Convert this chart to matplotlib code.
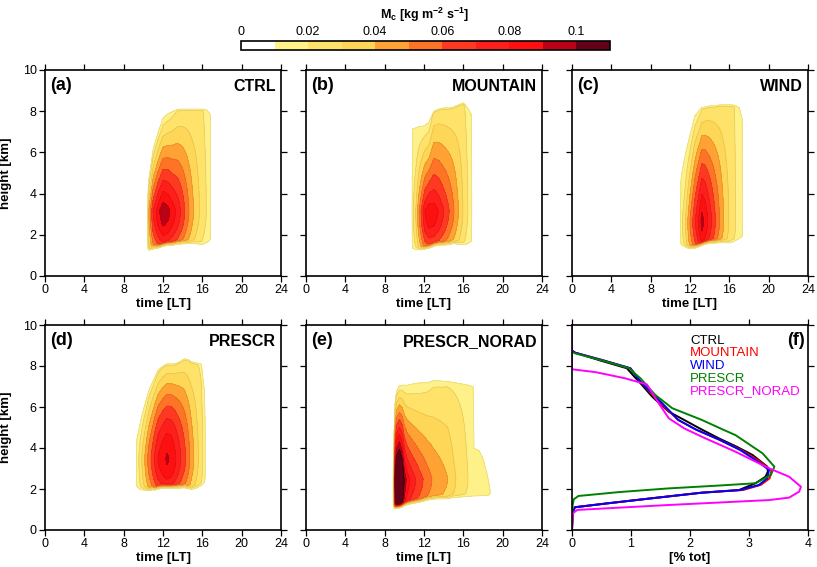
import numpy as np
import matplotlib
matplotlib.use('Agg')
import matplotlib.pyplot as plt
from matplotlib.colors import to_rgb

plt.rcParams['font.family'] = ['Liberation Sans', 'DejaVu Sans']
plt.rcParams['mathtext.fontset'] = 'custom'
plt.rcParams['mathtext.rm'] = 'Liberation Sans:bold'
plt.rcParams['mathtext.bf'] = 'Liberation Sans:bold'
plt.rcParams['mathtext.default'] = 'bf'

# colour levels of the mass flux
levels = [0, 0.01, 0.02, 0.03, 0.04, 0.05, 0.06, 0.07, 0.08, 0.09, 0.1, 0.11]
fill_colors = ['#ffffff', '#fef18a', '#fee26a', '#fed758', '#fea233', '#fd7427',
               '#fd3a21', '#fc1f1c', '#fd1010', '#bc0016', '#650019']
cbar_ticks = [0, 0.02, 0.04, 0.06, 0.08, 0.1]
cbar_labels = ['0', '0.02', '0.04', '0.06', '0.08', '0.1']

# ---- panel data: column maximum (AMP), value at cloud top (TOPV),
# cloud top / base height and profile shape (Q) at given times (LT) ----
CTRL_T    = [10.4, 10.55, 11.0, 11.5, 12.0, 12.5, 13.0, 13.5, 14.0, 14.5, 15.0, 15.5, 16.0, 16.4, 16.8, 17.0]
CTRL_AMP  = [0.0, 0.04, 0.07, 0.086, 0.097, 0.093, 0.085, 0.076, 0.065, 0.053, 0.042, 0.033, 0.026, 0.02, 0.013, 0.0]
CTRL_TOPV = [0.0, 0.011, 0.011, 0.011, 0.011, 0.012, 0.015, 0.018, 0.02, 0.021, 0.021, 0.021, 0.021, 0.016, 0.012, 0.0]
CTRL_TOP  = [4.0, 4.8, 6.3, 7.1, 7.8, 8.0, 8.1, 8.2, 8.2, 8.2, 8.2, 8.2, 8.2, 8.2, 8.0, 7.5]
CTRL_BASE = [1.1, 1.1, 1.2, 1.25, 1.35, 1.4, 1.4, 1.45, 1.45, 1.45, 1.45, 1.4, 1.35, 1.4, 1.45, 1.5]
CTRL_Q    = [1.0, 1.0, 1.0, 1.0, 1.0, 1.0, 1.0, 1.1, 1.2, 1.3, 1.4, 1.5, 1.6, 1.6, 1.6, 1.6]

MTN_T    = [10.7, 10.85, 11.2, 11.5, 11.8, 12.1, 12.5, 13.0, 13.5, 14.0, 14.5, 15.0, 15.5, 16.0, 16.4, 16.8, 17.0]
MTN_AMP  = [0.0, 0.018, 0.032, 0.05, 0.065, 0.08, 0.088, 0.086, 0.079, 0.07, 0.061, 0.051, 0.04, 0.029, 0.021, 0.014, 0.0]
MTN_TOPV = [0.0, 0.011, 0.011, 0.011, 0.011, 0.011, 0.011, 0.02, 0.021, 0.021, 0.021, 0.021, 0.021, 0.021, 0.017, 0.012, 0.0]
MTN_TOP  = [6.8, 7.3, 7.35, 7.4, 7.4, 7.45, 7.6, 8.1, 8.2, 8.25, 8.25, 8.3, 8.4, 8.5, 8.3, 8.0, 7.0]
MTN_BASE = [1.1, 1.1, 1.1, 1.15, 1.15, 1.2, 1.25, 1.35, 1.4, 1.4, 1.4, 1.45, 1.4, 1.35, 1.35, 1.4, 1.4]
MTN_Q    = [0.85, 0.85, 0.85, 0.85, 0.85, 0.85, 0.85, 0.9, 0.95, 1.0, 1.1, 1.2, 1.3, 1.4, 1.4, 1.4, 1.4]

WND_T    = [10.95, 11.1, 11.5, 12.0, 12.5, 13.0, 13.2, 13.5, 14.0, 14.5, 15.0, 15.5, 16.0, 16.5, 17.0, 17.3, 17.45]
WND_AMP  = [0.0, 0.016, 0.028, 0.05, 0.068, 0.085, 0.093, 0.088, 0.075, 0.062, 0.05, 0.038, 0.029, 0.022, 0.015, 0.012, 0.0]
WND_TOPV = [0.0, 0.011, 0.011, 0.011, 0.012, 0.014, 0.016, 0.018, 0.02, 0.021, 0.021, 0.021, 0.021, 0.02, 0.014, 0.011, 0.0]
WND_TOP  = [4.0, 5.0, 6.0, 7.0, 7.9, 8.2, 8.3, 8.3, 8.35, 8.35, 8.4, 8.4, 8.4, 8.4, 8.3, 7.8, 7.0]
WND_BASE = [1.3, 1.3, 1.25, 1.2, 1.25, 1.35, 1.4, 1.45, 1.5, 1.5, 1.5, 1.5, 1.45, 1.5, 1.6, 1.65, 1.65]
WND_Q    = [1.0, 1.0, 1.0, 1.1, 1.2, 1.2, 1.2, 1.25, 1.3, 1.4, 1.5, 1.6, 1.6, 1.6, 1.6, 1.6, 1.6]

PRS_T    = [9.2, 9.35, 9.7, 10.0, 10.3, 10.6, 10.9, 11.2, 11.5, 12.0, 12.4, 12.8, 13.2, 13.7, 14.2, 14.6, 14.9, 15.4, 15.9, 16.2, 16.45]
PRS_AMP  = [0.0, 0.014, 0.025, 0.035, 0.045, 0.055, 0.063, 0.072, 0.08, 0.087, 0.091, 0.089, 0.082, 0.072, 0.062, 0.053, 0.045, 0.034, 0.024, 0.016, 0.0]
PRS_TOPV = [0.0, 0.011, 0.011, 0.011, 0.011, 0.012, 0.013, 0.014, 0.015, 0.017, 0.018, 0.018, 0.019, 0.02, 0.02, 0.02, 0.02, 0.02, 0.018, 0.013, 0.0]
PRS_TOP  = [4.0, 4.6, 5.4, 6.0, 6.5, 7.0, 7.3, 7.6, 7.9, 8.1, 8.2, 8.2, 8.2, 8.3, 8.45, 8.4, 8.3, 8.25, 8.2, 7.0, 4.0]
PRS_BASE = [1.85, 1.85, 1.8, 1.8, 1.8, 1.8, 1.85, 1.85, 1.9, 1.95, 1.95, 1.95, 1.95, 1.95, 1.95, 1.9, 1.85, 1.9, 2.0, 2.1, 2.3]
PRS_Q    = [1.4, 1.4, 1.4, 1.4, 1.4, 1.4, 1.4, 1.4, 1.4, 1.4, 1.4, 1.45, 1.5, 1.55, 1.6, 1.6, 1.6, 1.6, 1.6, 1.6, 1.6]

NRD_T    = [8.82, 8.95, 9.05, 9.2, 9.5, 9.8, 10.0, 10.3, 10.8, 11.5, 12.3, 13.0, 14.4, 15.0, 16.3, 17.0, 17.1, 17.6, 18.0, 18.4, 18.7, 18.85]
NRD_AMP  = [0.0, 0.04, 0.1, 0.13, 0.14, 0.12, 0.097, 0.085, 0.075, 0.065, 0.055, 0.048, 0.04, 0.032, 0.021, 0.017, 0.017, 0.016, 0.015, 0.014, 0.012, 0.0]
NRD_TOPV = [0.0, 0.011, 0.011, 0.011, 0.011, 0.011, 0.011, 0.011, 0.012, 0.013, 0.015, 0.017, 0.018, 0.018, 0.017, 0.015, 0.015, 0.014, 0.014, 0.013, 0.012, 0.0]
NRD_TOP  = [3.0, 5.0, 6.3, 6.9, 7.15, 7.2, 7.2, 7.2, 7.25, 7.3, 7.3, 7.4, 7.35, 7.3, 7.2, 7.1, 4.1, 4.0, 3.6, 2.9, 2.2, 1.8]
NRD_BASE = [0.95, 0.95, 0.95, 0.97, 1.0, 1.05, 1.1, 1.15, 1.2, 1.25, 1.35, 1.4, 1.4, 1.45, 1.45, 1.45, 1.45, 1.45, 1.45, 1.45, 1.45, 1.5]
NRD_Q    = [1.0, 1.0, 1.0, 1.0, 1.0, 1.0, 1.0, 1.0, 1.0, 1.0, 1.05, 1.1, 1.2, 1.2, 1.2, 1.2, 1.2, 1.2, 1.2, 1.2, 1.2, 1.2]

# height of the flux maximum
peak_height = {'CTRL': 3.2, 'MOUNTAIN': 3.2, 'WIND': 2.7, 'PRESCR': 3.5, 'PRESCR_NORAD': 2.5}

# ---- panel (f): vertical profiles [% tot] vs height [km] ----
CTRL_PCT = [0, 0, 0.05, 0.5, 0.93, 1.05, 1.16, 1.36, 1.64, 1.9, 2.2, 2.49, 2.8, 3.06, 3.31, 3.32, 3.28, 3.11, 2.83, 2.2, 1.36, 0.6, 0.05, 0.01, 0]
CTRL_HGT = [10, 8.75, 8.65, 8.25, 7.89, 7.5, 7.16, 6.5, 5.77, 5.37, 4.9, 4.47, 4.05, 3.66, 3.09, 2.85, 2.6, 2.28, 1.95, 1.82, 1.55, 1.3, 1.11, 0.85, 0]
MTN_PCT = [0, 0, 0.05, 0.5, 0.99, 1.08, 1.16, 1.5, 1.8, 2.1, 2.5, 2.87, 3.15, 3.38, 3.35, 3.2, 2.9, 2.2, 1.36, 0.6, 0.05, 0.01, 0]
MTN_HGT = [10, 8.75, 8.65, 8.3, 7.89, 7.55, 7.24, 6.18, 5.37, 4.9, 4.4, 3.9, 3.41, 2.9, 2.52, 2.2, 1.95, 1.82, 1.55, 1.3, 1.11, 0.85, 0]
WND_PCT = [0, 0, 0.05, 0.5, 0.99, 1.08, 1.16, 1.53, 1.8, 2.1, 2.5, 2.85, 3.11, 3.34, 3.31, 3.17, 2.85, 2.2, 1.36, 0.6, 0.05, 0.01, 0]
WND_HGT = [10, 8.75, 8.65, 8.3, 7.89, 7.55, 7.24, 6.18, 5.37, 4.9, 4.4, 3.9, 3.41, 2.93, 2.52, 2.2, 1.95, 1.82, 1.55, 1.3, 1.11, 0.85, 0]
PRS_PCT = [0, 0, 0.05, 0.5, 0.97, 1.07, 1.16, 1.41, 1.7, 2.2, 2.55, 2.77, 3.23, 3.43, 3.37, 3.11, 2.5, 1.64, 0.8, 0.11, 0.03, 0.01, 0]
PRS_HGT = [10, 8.7, 8.62, 8.28, 7.89, 7.62, 7.4, 6.59, 5.94, 5.37, 4.91, 4.63, 3.74, 3.09, 2.68, 2.28, 2.17, 2.03, 1.85, 1.66, 1.5, 1.2, 0]
NRD_PCT = [0, 0, 0.4, 0.9, 1.27, 1.47, 1.64, 1.9, 2.2, 2.77, 3.34, 3.68, 3.88, 3.85, 3.68, 3.34, 1.64, 0.09, 0.03, 0.01, 0]
NRD_HGT = [10, 7.84, 7.7, 7.4, 7.1, 6.18, 5.45, 4.96, 4.55, 3.82, 3.01, 2.6, 2.11, 1.87, 1.58, 1.46, 1.22, 0.98, 0.85, 0.75, 0]

run_names = ['CTRL', 'MOUNTAIN', 'WIND', 'PRESCR', 'PRESCR_NORAD']
run_colors = ['black', 'red', 'blue', 'green', 'magenta']
panel_tags = ['(a)', '(b)', '(c)', '(d)', '(e)', '(f)']

tgrid = np.linspace(0, 24, 961)
zgrid = np.linspace(0, 10, 801)


def smooth(x):
    x = np.clip(x, 0, 1)
    return x * x * (3 - 2 * x)


def build(tk, amp, topv, top, base, qk, zp, sb=2.0):
    a = np.interp(tgrid, tk, amp)[None, :]
    v = np.interp(tgrid, tk, topv)[None, :]
    h = np.interp(tgrid, tk, top)[None, :]
    b = np.interp(tgrid, tk, base)[None, :]
    q = np.interp(tgrid, tk, qk)[None, :]
    zz = zgrid[:, None]
    s = np.clip((zz - zp) / np.maximum(h - zp, 0.3), 0, 1)
    up = v + (a - v) * (1 - s ** q)
    lo = a * np.exp(-0.5 * ((zp - zz) / sb) ** 2)
    m = np.where(zz > zp, up, lo)
    m = m * smooth((zz - b) / 0.35) * smooth((h - zz) / 0.2)
    return np.minimum(m, 0.1099)


fields = [
    build(CTRL_T, CTRL_AMP, CTRL_TOPV, CTRL_TOP, CTRL_BASE, CTRL_Q, peak_height['CTRL']),
    build(MTN_T, MTN_AMP, MTN_TOPV, MTN_TOP, MTN_BASE, MTN_Q, peak_height['MOUNTAIN']),
    build(WND_T, WND_AMP, WND_TOPV, WND_TOP, WND_BASE, WND_Q, peak_height['WIND']),
    build(PRS_T, PRS_AMP, PRS_TOPV, PRS_TOP, PRS_BASE, PRS_Q, peak_height['PRESCR']),
    build(NRD_T, NRD_AMP, NRD_TOPV, NRD_TOP, NRD_BASE, NRD_Q, peak_height['PRESCR_NORAD']),
]

# contour line colours: a bit darker than the band above the line
line_colors = [tuple(0.9 * c for c in to_rgb(fc)) for fc in fill_colors[1:10]] + ['#2a0008']

W, H = 817, 567
fig = plt.figure(figsize=(W / 100, H / 100), dpi=100)


def add_ax(x0, x1, y0, y1):
    return fig.add_axes([x0 / W, 1 - y1 / H, (x1 - x0) / W, (y1 - y0) / H])


def style(ax):
    for sp in ax.spines.values():
        sp.set_linewidth(1.2)
    ax.tick_params(direction='out', length=4.5, width=0.9, labelsize=9, pad=1.5,
                   top=True, right=True)
    ax.set_ylim(0, 10)
    ax.set_yticks([0, 2, 4, 6, 8, 10])


cols = [(45, 281), (306, 542), (572, 808)]
rows = [(70, 276), (325, 530)]
positions = [(rows[0], cols[0]), (rows[0], cols[1]), (rows[0], cols[2]),
             (rows[1], cols[0]), (rows[1], cols[1])]

cf = None
for i, (fld, (r, c)) in enumerate(zip(fields, positions)):
    ax = add_ax(c[0], c[1], r[0], r[1])
    cf = ax.contourf(tgrid, zgrid, fld, levels=levels, colors=fill_colors)
    ax.contour(tgrid, zgrid, fld, levels=levels[1:], colors=line_colors, linewidths=0.5)
    style(ax)
    ax.set_xlim(0, 24)
    ax.set_xticks([0, 4, 8, 12, 16, 20, 24])
    ax.set_xlabel('time [LT]', fontsize=9.5, fontweight='bold', labelpad=1)
    if c == cols[0]:
        ax.set_ylabel('height [km]', fontsize=9.5, fontweight='bold')
        ax.yaxis.set_label_coords(-0.14, 0.5)
    else:
        ax.set_yticklabels([])
    ax.text(0.02, 0.965, panel_tags[i], transform=ax.transAxes, ha='left', va='top',
            fontsize=13, fontweight='bold')
    ax.text(0.98, 0.955, run_names[i], transform=ax.transAxes, ha='right', va='top',
            fontsize=11.5, fontweight='bold')

# panel (f)
axf = add_ax(cols[2][0], cols[2][1], rows[1][0], rows[1][1])
profiles = [(CTRL_PCT, CTRL_HGT), (MTN_PCT, MTN_HGT), (WND_PCT, WND_HGT),
            (PRS_PCT, PRS_HGT), (NRD_PCT, NRD_HGT)]
for (pct, hgt), col in zip(profiles, run_colors):
    axf.plot(pct, hgt, color=col, lw=1.4)
style(axf)
axf.set_xlim(0, 4)
axf.set_xticks([0, 1, 2, 3, 4])
axf.set_yticklabels([])
axf.set_xlabel('[% tot]', fontsize=9.5, fontweight='bold', labelpad=1)
legend_y = [9.23, 8.62, 8.02, 7.37, 6.78]
for name, col, y in zip(run_names, run_colors, legend_y):
    axf.text(2.0, y, name, color=col, fontsize=9.5, ha='left', va='center')
axf.text(0.985, 0.965, panel_tags[5], transform=axf.transAxes, ha='right', va='top',
         fontsize=13, fontweight='bold')

# colour bar on top
cax = add_ax(241, 610, 41, 50)
cb = fig.colorbar(cf, cax=cax, orientation='horizontal')
cb.set_ticks(cbar_ticks)
cb.set_ticklabels(cbar_labels)
cb.outline.set_linewidth(1.2)
cax.xaxis.set_ticks_position('top')
cax.tick_params(length=0, labelsize=9, pad=2)
fig.text(425 / W, 1 - 15 / H, r'M$_{c}$ [kg m$^{-2}$ s$^{-1}$]', ha='center', va='center',
         fontsize=9, fontweight='bold')

fig.savefig('out.png', dpi=100)
